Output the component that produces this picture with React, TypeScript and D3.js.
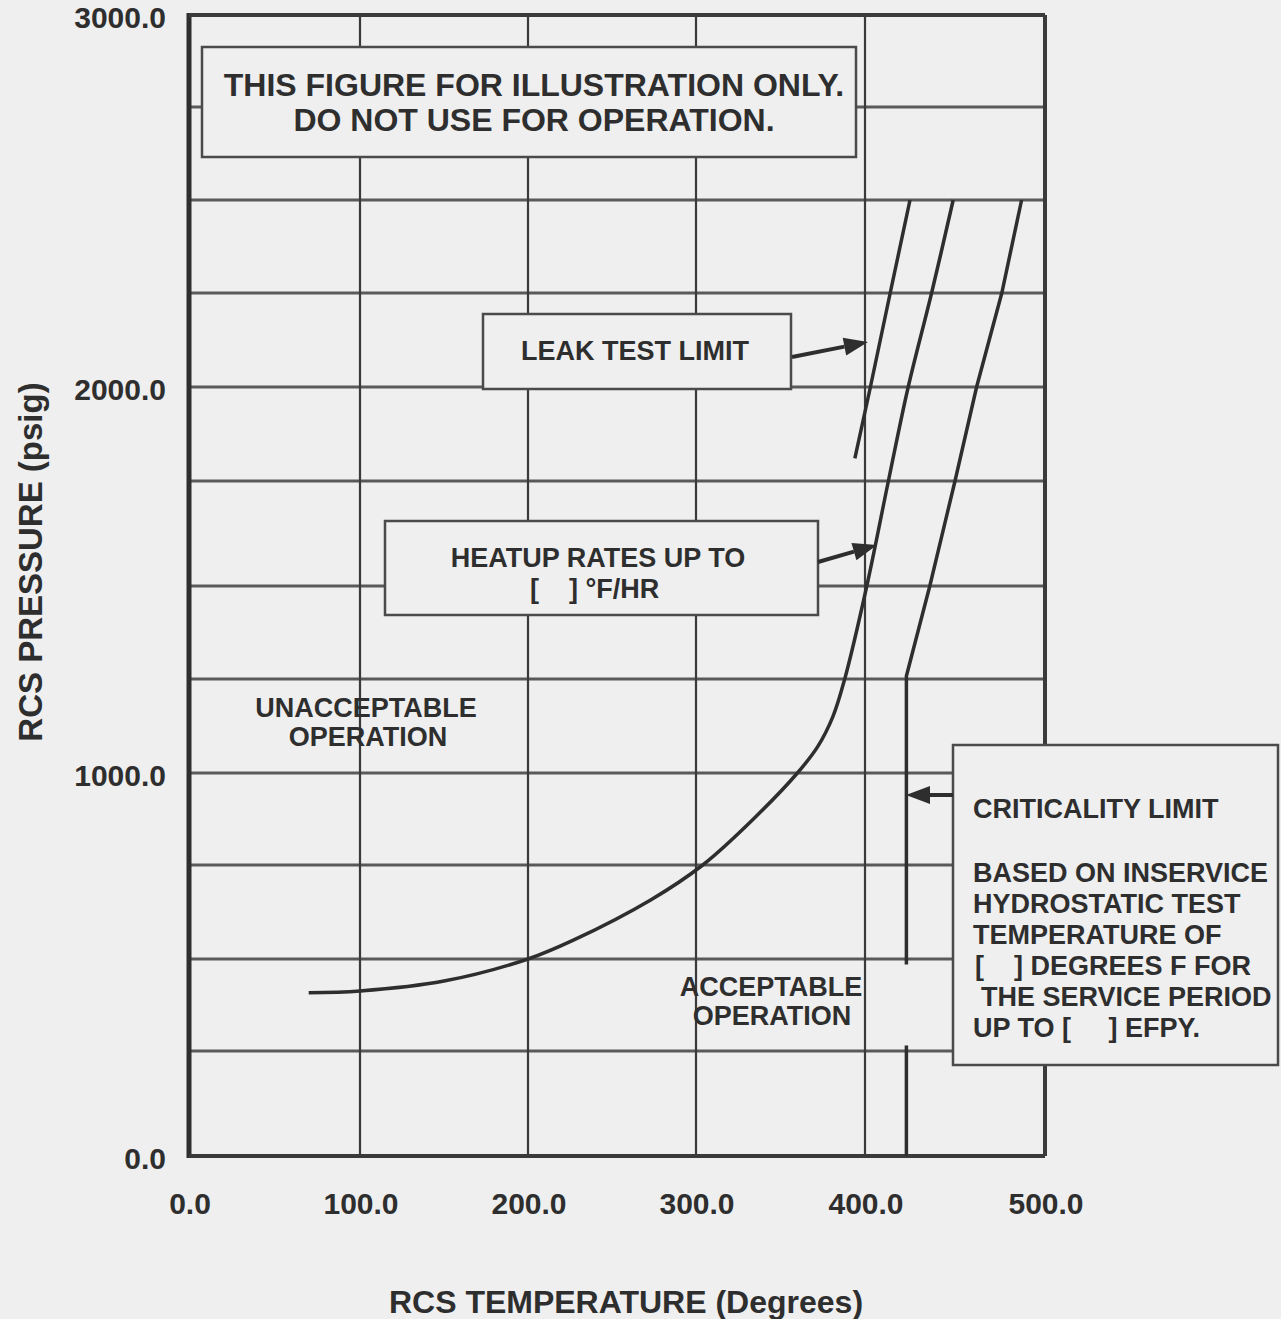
import React from "react";
import * as d3 from "d3";

const W = 1281;
const H = 1319;

// Axis ticks / grid values
const tempTicks = [0, 100, 200, 300, 400, 500];
const pressureGrid = [0, 250, 500, 750, 1000, 1250, 1500, 1750, 2000, 2250, 2500, 2750, 3000];
const pressureLabels = [0, 1000, 2000, 3000];
const tempGridInner = [100, 200, 300, 400];

// Heatup limit curve (°F, psig)
const heatupTemp = [70, 100, 150, 200, 227, 273, 304, 334, 360, 372, 381, 388, 401, 413, 424, 437, 449];
const heatupPress = [408, 413, 440, 500, 550, 657, 750, 875, 1000, 1070, 1150, 1250, 1500, 1750, 2000, 2250, 2500];

// Leak test limit
const leakTemp = [394, 403, 414, 425];
const leakPress = [1810, 2000, 2250, 2500];

// Criticality limit (upper branch and the short lower segment)
const critTemp = [423, 423, 436, 450, 462, 476, 487];
const critPress = [485, 1258, 1500, 1750, 2000, 2250, 2500];
const critLowTemp = [423, 423];
const critLowPress = [0, 265];

const INK = "#2e2e2e";
const BG = "#efefef";
const FONT = "'Liberation Sans', Arial, Helvetica, sans-serif";

// The grid spacing of the chart is slightly uneven, so each grid value gets its own position
const x = d3.scaleLinear().domain(tempTicks).range([189, 360, 528, 696, 865, 1045]);
const y = d3
  .scaleLinear()
  .domain(pressureGrid)
  .range([1156, 1051, 959, 865, 773, 679, 586, 481, 387, 293, 200, 107, 15]);

const zip = (a: number[], b: number[]): [number, number][] => a.map((v, i) => [v, b[i]]);

const smooth = d3
  .line<[number, number]>()
  .x((d) => x(d[0]))
  .y((d) => y(d[1]))
  .curve(d3.curveCatmullRom.alpha(0.5));

const straight = d3
  .line<[number, number]>()
  .x((d) => x(d[0]))
  .y((d) => y(d[1]));

function Arrow({ x1, y1, x2, y2 }: { x1: number; y1: number; x2: number; y2: number }) {
  const ang = Math.atan2(y2 - y1, x2 - x1);
  const len = 24;
  const hw = 9;
  const bx = x2 - len * Math.cos(ang);
  const by = y2 - len * Math.sin(ang);
  const px = -Math.sin(ang) * hw;
  const py = Math.cos(ang) * hw;
  return (
    <g>
      <line x1={x1} y1={y1} x2={bx} y2={by} stroke={INK} strokeWidth={4} />
      <polygon points={`${x2},${y2} ${bx + px},${by + py} ${bx - px},${by - py}`} fill={INK} />
    </g>
  );
}

function Box({ x0, y0, x1, y1 }: { x0: number; y0: number; x1: number; y1: number }) {
  return <rect x={x0} y={y0} width={x1 - x0} height={y1 - y0} fill={BG} stroke="#4a4a4a" strokeWidth={2.5} />;
}

export default function App() {
  const nb = "\u00a0";
  const boxText = { fontFamily: FONT, fontWeight: 700, fontSize: 27, fill: INK } as const;
  return (
    <svg
      width={W}
      height={H}
      style={{ position: "absolute", left: 0, top: 0, background: BG }}
      xmlns="http://www.w3.org/2000/svg"
    >
      <rect x={0} y={0} width={W} height={H} fill={BG} />

      {/* horizontal grid */}
      {pressureGrid.slice(1, -1).map((p) => (
        <line key={"h" + p} x1={x(0)} x2={x(500)} y1={y(p)} y2={y(p)} stroke="#5a5a5a" strokeWidth={3} />
      ))}
      {/* vertical grid */}
      {tempGridInner.map((t) => (
        <line key={"v" + t} x1={x(t)} x2={x(t)} y1={y(0)} y2={y(3000)} stroke="#3a3a3a" strokeWidth={2.2} />
      ))}
      {/* plot frame */}
      <line x1={x(0)} x2={x(0)} y1={y(0) + 2} y2={y(3000) - 2} stroke={INK} strokeWidth={5} />
      <line x1={x(0)} x2={x(500)} y1={y(0)} y2={y(0)} stroke="#3a3a3a" strokeWidth={4} />
      <line x1={x(0)} x2={x(500)} y1={y(3000)} y2={y(3000)} stroke="#3a3a3a" strokeWidth={4} />
      <line x1={x(500)} x2={x(500)} y1={y(0)} y2={y(3000)} stroke="#3a3a3a" strokeWidth={4} />

      {/* limit curves */}
      <path d={smooth(zip(heatupTemp, heatupPress)) || ""} fill="none" stroke={INK} strokeWidth={3.5} />
      <path d={straight(zip(leakTemp, leakPress)) || ""} fill="none" stroke={INK} strokeWidth={3.5} />
      <path d={straight(zip(critTemp, critPress)) || ""} fill="none" stroke={INK} strokeWidth={3.5} />
      <path d={straight(zip(critLowTemp, critLowPress)) || ""} fill="none" stroke={INK} strokeWidth={3.5} />

      {/* annotation boxes */}
      <Box x0={202} y0={47} x1={856} y1={157} />
      <Box x0={483} y0={314} x1={791} y1={389} />
      <Box x0={385} y0={521} x1={818} y1={615} />
      <Box x0={953} y0={745} x1={1278} y1={1065} />

      <Arrow x1={792} y1={357} x2={868} y2={342} />
      <Arrow x1={818} y1={562} x2={877} y2={545} />
      <Arrow x1={953} y1={795} x2={906} y2={795} />

      {/* box texts */}
      <g style={{ fontFamily: FONT, fontWeight: 700, fontSize: 32, fill: INK }} textAnchor="middle">
        <text x={534} y={96}>THIS FIGURE FOR ILLUSTRATION ONLY.</text>
        <text x={534} y={131}>DO NOT USE FOR OPERATION.</text>
      </g>
      <text {...boxText} x={635} y={360} textAnchor="middle">LEAK TEST LIMIT</text>
      <text {...boxText} x={598} y={567} textAnchor="middle">HEATUP RATES UP TO</text>
      <text {...boxText} x={530} y={598}>{`[${nb}${nb}${nb}${nb}]${nb}°F/HR`}</text>

      <text {...boxText} x={366} y={717} textAnchor="middle">UNACCEPTABLE</text>
      <text {...boxText} x={368} y={746} textAnchor="middle">OPERATION</text>
      <text {...boxText} x={771} y={996} textAnchor="middle">ACCEPTABLE</text>
      <text {...boxText} x={772} y={1025} textAnchor="middle">OPERATION</text>

      <g style={boxText}>
        <text x={973} y={818}>CRITICALITY LIMIT</text>
        <text x={973} y={882}>BASED ON INSERVICE</text>
        <text x={973} y={913}>HYDROSTATIC TEST</text>
        <text x={973} y={944}>TEMPERATURE OF</text>
        <text x={975} y={975}>{`[${nb}${nb}${nb}${nb}]${nb}DEGREES F FOR`}</text>
        <text x={981} y={1006}>THE SERVICE PERIOD</text>
        <text x={973} y={1037}>{`UP TO [${nb}${nb}${nb}${nb}${nb}] EFPY.`}</text>
      </g>

      {/* tick labels */}
      <g style={{ fontFamily: FONT, fontWeight: 700, fontSize: 30, fill: INK }}>
        {pressureLabels.map((p) => (
          <text key={"yl" + p} x={166} y={y(p) + 13} textAnchor="end">
            {p.toFixed(1)}
          </text>
        ))}
        {tempTicks.map((t) => (
          <text key={"xl" + t} x={x(t) + 1} y={1214} textAnchor="middle">
            {t.toFixed(1)}
          </text>
        ))}
      </g>

      {/* axis titles */}
      <text
        x={626}
        y={1313}
        textAnchor="middle"
        style={{ fontFamily: FONT, fontWeight: 700, fontSize: 32, fill: INK }}
      >
        RCS TEMPERATURE (Degrees)
      </text>
      <text
        transform="translate(42,562) rotate(-90)"
        textAnchor="middle"
        style={{ fontFamily: FONT, fontWeight: 700, fontSize: 33, fill: INK }}
      >
        RCS PRESSURE (psig)
      </text>
    </svg>
  );
}
